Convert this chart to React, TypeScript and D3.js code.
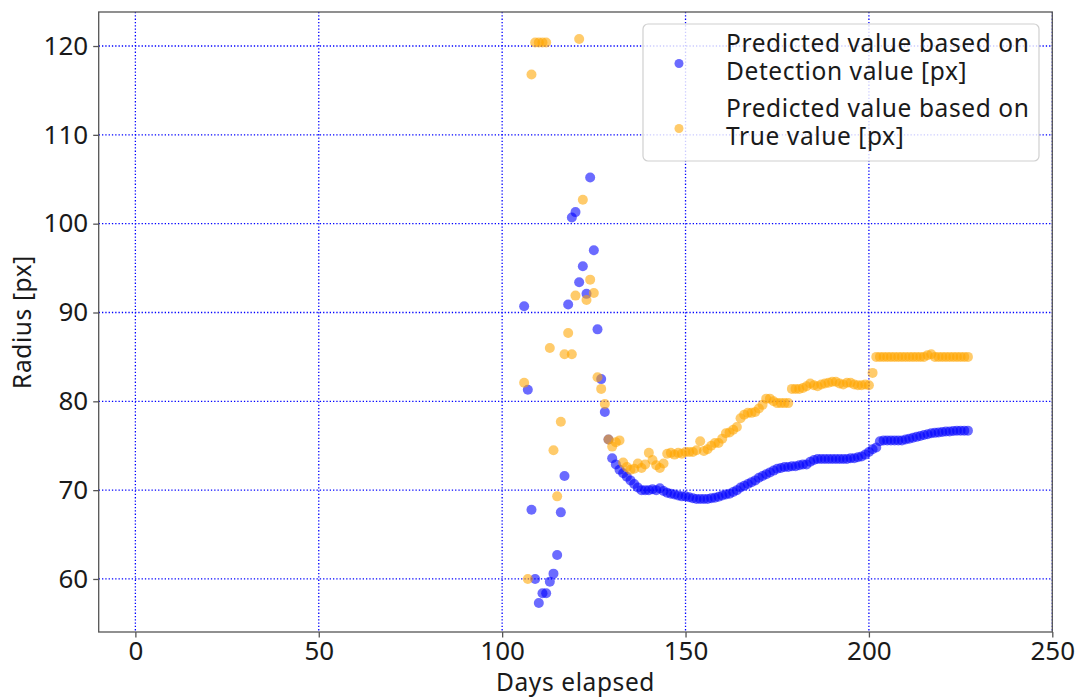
import * as d3 from "d3";
import { useEffect, useRef } from "react";

const width = 1083;
const height = 697;
const margin = { top: 12, right: 30.7, bottom: 65, left: 98.7 };

const firstDay = 106;

// one value per day, starting at day 106
const detectionValues = [
  90.7, 81.3, 67.8, 60.0, 57.3, 58.4, 58.4, 59.7, 60.6, 62.7,
  67.5, 71.6, 90.9, 100.7, 101.3, 93.4, 95.2, 92.1, 105.2, 97.0,
  88.1, 82.5, 78.8, 75.7, 73.6, 72.9, 72.3, 71.9, 71.5, 71.1,
  70.7, 70.3, 70.0, 70.0, 70.0, 70.1, 70.0, 70.2, 69.9, 69.7,
  69.6, 69.5, 69.4, 69.3, 69.3, 69.2, 69.1, 69.0, 69.0, 69.0,
  69.0, 69.1, 69.15, 69.25, 69.4, 69.5, 69.6, 69.8, 70.0, 70.3,
  70.5, 70.7, 70.9, 71.1, 71.4, 71.6, 71.8, 72.0, 72.2, 72.4,
  72.5, 72.6, 72.6, 72.7, 72.7, 72.8, 72.9, 72.9, 73.2, 73.4,
  73.5, 73.5, 73.5, 73.5, 73.5, 73.5, 73.5, 73.5, 73.5, 73.6,
  73.6, 73.7, 73.8, 74.0, 74.3, 74.6, 74.8, 75.5, 75.6, 75.6,
  75.6, 75.6, 75.6, 75.6, 75.7, 75.8, 75.9, 76.0, 76.1, 76.2,
  76.3, 76.4, 76.45, 76.5, 76.55, 76.6, 76.6, 76.65, 76.7, 76.7,
  76.7, 76.7,
];

const trueValues = [
  82.1, 60.0, 116.8, 120.4, 120.4, 120.4, 120.4, 86.0, 74.5, 69.3,
  77.7, 85.3, 87.7, 85.3, 91.9, 120.8, 102.7, 91.4, 93.7, 92.2,
  82.7, 81.4, 79.7, 75.7, 74.9, 75.4, 75.6, 73.1, 72.6, 72.3,
  72.4, 73.0, 72.5, 72.9, 74.2, 73.4, 72.8, 72.5, 73.0, 74.1,
  74.2, 74.0, 74.2, 74.1, 74.3, 74.3, 74.3, 74.5, 75.5, 74.4,
  74.6, 75.0, 75.3, 75.3, 75.8, 76.4, 76.5, 76.8, 77.1, 78.1,
  78.5, 78.7, 78.7, 78.8, 79.2, 79.6, 80.3, 80.3, 80.0, 79.8,
  79.8, 79.8, 79.8, 81.4, 81.4, 81.4, 81.5, 81.7, 82.0, 81.8,
  81.7, 81.9, 82.0, 82.1, 82.2, 82.2, 82.0, 81.9, 82.1, 82.1,
  81.9, 81.8, 81.8, 81.9, 81.8, 83.2, 85.0, 85.0, 85.0, 85.0,
  85.0, 85.0, 85.0, 85.0, 85.0, 85.0, 85.0, 85.0, 85.0, 85.0,
  85.2, 85.3, 85.0, 85.0, 85.0, 85.0, 85.0, 85.0, 85.0, 85.0,
  85.0, 85.0,
];

const xTicks = [0, 50, 100, 150, 200, 250];
const yTicks = [60, 70, 80, 90, 100, 110, 120];

const seriesNames = [
  ["Predicted value based on", "Detection value [px]"],
  ["Predicted value based on", "True value [px]"],
];
const seriesColors = ["#0000ff", "#ffa500"];

const font = "'Noto Sans', 'DejaVu Sans', sans-serif";
const fontSize = "24.5px";

export default function App() {
  const svgRef = useRef<SVGSVGElement | null>(null);

  useEffect(() => {
    if (!svgRef.current) return;
    drawChart(svgRef.current);
  }, []);

  return (
    <svg
      ref={svgRef}
      width={width}
      height={height}
      style={{ position: "absolute", left: 0, top: 0, background: "#fff" }}
    />
  );
}

function drawChart(svgElement: SVGSVGElement) {
  const svg = d3.select(svgElement);
  svg.selectAll("*").remove();

  const plotRight = width - margin.right;
  const plotBottom = height - margin.bottom;

  const xScale = d3
    .scaleLinear()
    .domain([-10, 250])
    .range([margin.left, plotRight]);
  const yScale = d3
    .scaleLinear()
    .domain([54.03, 123.83])
    .range([plotBottom, margin.top]);

  // dotted blue grid
  const grid = svg.append("g");
  grid
    .selectAll(".x-grid")
    .data(xTicks)
    .join("line")
    .attr("x1", (t) => xScale(t))
    .attr("x2", (t) => xScale(t))
    .attr("y1", margin.top)
    .attr("y2", plotBottom)
    .attr("stroke", "#0000ff")
    .attr("stroke-width", 1.3)
    .attr("stroke-dasharray", "1.3 2");
  grid
    .selectAll(".y-grid")
    .data(yTicks)
    .join("line")
    .attr("x1", margin.left)
    .attr("x2", plotRight)
    .attr("y1", (t) => yScale(t))
    .attr("y2", (t) => yScale(t))
    .attr("stroke", "#0000ff")
    .attr("stroke-width", 1.3)
    .attr("stroke-dasharray", "1.3 2");

  const series = [detectionValues, trueValues];
  series.forEach((values, i) => {
    svg
      .append("g")
      .selectAll("circle")
      .data(values)
      .join("circle")
      .attr("cx", (_, k) => xScale(firstDay + k))
      .attr("cy", (v) => yScale(v))
      .attr("r", 5)
      .attr("fill", seriesColors[i])
      .attr("fill-opacity", 0.58);
  });

  // spines
  svg
    .append("rect")
    .attr("x", margin.left)
    .attr("y", margin.top)
    .attr("width", plotRight - margin.left)
    .attr("height", plotBottom - margin.top)
    .attr("fill", "none")
    .attr("stroke", "#555")
    .attr("stroke-width", 1.3);

  const xAxis = svg
    .append("g")
    .attr("transform", `translate(0, ${plotBottom})`)
    .call(d3.axisBottom(xScale).tickValues(xTicks).tickSize(5.5).tickPadding(4));
  const yAxis = svg
    .append("g")
    .attr("transform", `translate(${margin.left}, 0)`)
    .call(d3.axisLeft(yScale).tickValues(yTicks).tickSize(5.5).tickPadding(5));

  [xAxis, yAxis].forEach((axis) => {
    axis.select(".domain").remove();
    axis.selectAll(".tick line").attr("stroke", "#555").attr("stroke-width", 1.3);
    axis
      .selectAll(".tick text")
      .attr("fill", "#1a1a1a")
      .style("font-family", font)
      .style("font-size", "26px");
  });

  svg
    .append("text")
    .attr("x", (margin.left + plotRight) / 2)
    .attr("y", 691)
    .attr("text-anchor", "middle")
    .attr("fill", "#1a1a1a")
    .style("font-family", font)
    .style("font-size", fontSize)
    .style("letter-spacing", "0.6px")
    .text("Days elapsed");

  svg
    .append("text")
    .attr("transform", `translate(31, ${(margin.top + plotBottom) / 2}) rotate(-90)`)
    .attr("text-anchor", "middle")
    .attr("fill", "#1a1a1a")
    .style("font-family", font)
    .style("font-size", fontSize)
    .style("letter-spacing", "0.6px")
    .text("Radius [px]");

  // legend
  const legend = svg.append("g");
  legend
    .append("rect")
    .attr("x", 643)
    .attr("y", 24)
    .attr("width", 396)
    .attr("height", 137)
    .attr("rx", 5)
    .attr("fill", "#ffffff")
    .attr("fill-opacity", 0.8)
    .attr("stroke", "#d0d0d0")
    .attr("stroke-width", 1.2);

  const items = legend
    .selectAll(".item")
    .data(seriesNames)
    .join("g")
    .attr("transform", (_, i) => `translate(0, ${i * 65})`);

  items
    .append("circle")
    .attr("cx", 679)
    .attr("cy", 63.5)
    .attr("r", 4.5)
    .attr("fill", (_, i) => seriesColors[i])
    .attr("fill-opacity", 0.58);

  items
    .selectAll("text")
    .data((lines) => lines)
    .join("text")
    .attr("x", 726)
    .attr("y", (_, j) => 52 + j * 28)
    .attr("fill", "#1a1a1a")
    .style("font-family", font)
    .style("font-size", fontSize)
    .style("letter-spacing", "0.6px")
    .text((line) => line);
}
